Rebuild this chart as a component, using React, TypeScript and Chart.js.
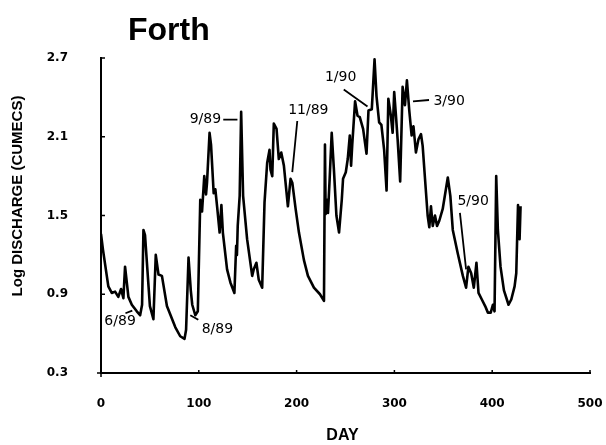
import React, { useEffect, useRef } from "react";
import { Chart, registerables } from "chart.js";

Chart.register(...registerables);

// ---- data ----
const days = [
  0, 2, 7.5, 11, 14.4, 17.7, 20.5, 22.9, 24.6, 26.7, 28, 31.5, 36.6, 40, 42, 43.4, 45, 50, 53.6, 56,
  58.8, 62.3, 67.4, 75.9, 81, 85.4, 87, 89.5, 91.8, 93.3, 96.4, 99, 101.5, 103.3, 105.6, 107.4, 108.4,
  111, 112.5, 115.2, 116.9, 118.7, 121.3, 123.1, 124.6, 128.9, 132.3, 136.4, 138.2, 139, 139.8, 141.8,
  143.3, 145.3, 149.4, 154.6, 156.2, 158.9, 161.3, 164.8, 167.2, 169.9, 172.3, 173.3, 175.1, 176.7,
  179.5, 181.8, 184.3, 187, 191.1, 193.8, 195.6, 199, 202.4, 207.5, 211.6, 217.7, 223.9, 228, 229,
  229.7, 231.5, 232.1, 233.8, 235.9, 238.3, 240.7, 243.4, 246.2, 247.5, 250.3, 252.3, 254.4, 255.7,
  256.9, 259.8, 262.3, 264.6, 268, 271.5, 273.5, 276.9, 279.7, 281.7, 284.4, 286.7, 289.5, 292, 293.8,
  296.4, 298.2, 299.8, 301.5, 303.3, 305.9, 308.4, 310.8, 312.8, 315.2, 317.6, 319.5, 322, 324.6,
  327.2, 328.9, 331.3, 334, 335.7, 337.4, 339.2, 341.5, 343.6, 345.9, 349.4, 354.6, 357.2, 359.7,
  364.8, 370, 373.3, 375.7, 378.5, 381.2, 383.9, 386, 389.4, 392.8, 395.6, 398.5, 400.7, 402.4, 404.1,
  405.8, 408.5, 412, 416.7, 419.5, 422.9, 424.6, 426.4, 428, 429,
];
const logDischarge = [
  1.36, 1.24, 0.96, 0.91, 0.92, 0.88, 0.94, 0.87, 1.11, 0.97, 0.88, 0.82, 0.77, 0.74, 0.82, 1.39, 1.35,
  0.81, 0.71, 1.2, 1.05, 1.04, 0.81, 0.65, 0.58, 0.56, 0.63, 1.18, 0.93, 0.82, 0.74, 0.77, 1.62, 1.53,
  1.8, 1.66, 1.75, 2.13, 2.04, 1.67, 1.7, 1.57, 1.37, 1.58, 1.37, 1.09, 0.99, 0.91, 1.27, 1.2, 1.42,
  1.65, 2.29, 1.65, 1.32, 1.04, 1.09, 1.14, 1.01, 0.95, 1.6, 1.9, 2.0, 1.85, 1.8, 2.2, 2.16, 1.93,
  1.98, 1.88, 1.57, 1.78, 1.75, 1.55, 1.37, 1.16, 1.04, 0.95, 0.9, 0.85, 2.04, 1.51, 1.62, 1.52, 1.78,
  2.13, 1.83, 1.5, 1.37, 1.62, 1.78, 1.83, 1.93, 2.11, 1.88, 2.04, 2.37, 2.26, 2.25, 2.16, 1.97, 2.3,
  2.31, 2.69, 2.41, 2.21, 2.19, 2.0, 1.69, 2.39, 2.26, 2.13, 2.44, 2.27, 2.08, 1.76, 2.48, 2.34, 2.53,
  2.3, 2.11, 2.18, 1.98, 2.08, 2.12, 2.03, 1.78, 1.5, 1.41, 1.57, 1.42, 1.5, 1.42, 1.46, 1.55, 1.79,
  1.65, 1.39, 1.21, 1.04, 0.95, 1.11, 1.06, 0.95, 1.14, 0.91, 0.86, 0.81, 0.76, 0.76, 0.82, 0.77,
  1.8, 1.39, 1.11, 0.93, 0.82, 0.86, 0.96, 1.06, 1.58, 1.32, 1.57,
];

const xTickValues = [0, 100, 200, 300, 400, 500];
const xTickLabels = ["0", "100", "200", "300", "400", "500"];
const yTickValues = [0.3, 0.9, 1.5, 2.1, 2.7];
const yTickLabels = ["0.3", "0.9", "1.5", "2.1", "2.7"];

const annotationTexts = ["6/89", "8/89", "9/89", "11/89", "1/90", "3/90", "5/90"];
const annotationDay = [19.5, 119, 106.7, 212, 245, 356, 380.5];
const annotationValue = [0.69, 0.63, 2.23, 2.3, 2.55, 2.37, 1.61];
const leaderStartDay = [25, 91.3, 125, 200.7, 248.2, 319, 367];
const leaderStartValue = [0.755, 0.74, 2.23, 2.22, 2.46, 2.37, 1.52];
const leaderEndDay = [32, 99.5, 139.5, 195.6, 272.5, 335.4, 373.3];
const leaderEndValue = [0.775, 0.705, 2.23, 1.83, 2.33, 2.38, 1.09];

const chartTitle = "Forth";
const xTitle = "DAY";
const yTitle = "Log DISCHARGE (CUMECS)";

const decorPlugin = {
  id: "decor",
  afterDraw(chart: any) {
    const { ctx, scales, chartArea } = chart;
    const xs = scales.x;
    const ys = scales.y;
    ctx.save();
    ctx.fillStyle = "#000";
    ctx.strokeStyle = "#000";

    // title
    ctx.font = "bold 32px 'Liberation Sans', Arial, sans-serif";
    ctx.textAlign = "left";
    ctx.textBaseline = "alphabetic";
    ctx.fillText(chartTitle, 128, 40);

    // y-axis title
    ctx.save();
    ctx.translate(22, 196);
    ctx.rotate(-Math.PI / 2);
    ctx.font = "bold 15px 'Liberation Sans', Arial, sans-serif";
    ctx.textAlign = "center";
    ctx.textBaseline = "alphabetic";
    ctx.fillText(yTitle, 0, 0);
    ctx.restore();

    // x-axis title
    ctx.font = "bold 16px 'Liberation Sans', Arial, sans-serif";
    ctx.textAlign = "center";
    ctx.textBaseline = "alphabetic";
    ctx.fillText(xTitle, (chartArea.left + chartArea.right) / 2 - 3, 440);

    // inward ticks
    ctx.lineWidth = 1.5;
    ctx.beginPath();
    xTickValues.forEach((v) => {
      if (v === 0) return;
      const px = xs.getPixelForValue(v);
      ctx.moveTo(px, chartArea.bottom);
      ctx.lineTo(px, chartArea.bottom - 3);
    });
    yTickValues.forEach((v) => {
      if (v === 0.3) return;
      const py = ys.getPixelForValue(v);
      ctx.moveTo(chartArea.left, py);
      ctx.lineTo(chartArea.left + 4, py);
    });
    ctx.moveTo(chartArea.left, chartArea.bottom);
    ctx.lineTo(chartArea.left, chartArea.bottom + 4);
    ctx.moveTo(chartArea.left, chartArea.bottom);
    ctx.lineTo(chartArea.left - 4, chartArea.bottom);
    ctx.stroke();

    // annotations
    ctx.font = "14px 'DejaVu Sans', sans-serif";
    ctx.textAlign = "center";
    ctx.textBaseline = "middle";
    annotationTexts.forEach((t, i) => {
      ctx.fillText(t, xs.getPixelForValue(annotationDay[i]), ys.getPixelForValue(annotationValue[i]));
    });
    ctx.lineWidth = 1.8;
    ctx.beginPath();
    annotationTexts.forEach((_, i) => {
      ctx.moveTo(xs.getPixelForValue(leaderStartDay[i]), ys.getPixelForValue(leaderStartValue[i]));
      ctx.lineTo(xs.getPixelForValue(leaderEndDay[i]), ys.getPixelForValue(leaderEndValue[i]));
    });
    ctx.stroke();
    ctx.restore();
  },
};

export default function App() {
  const canvasRef = useRef<HTMLCanvasElement | null>(null);

  useEffect(() => {
    const canvas = canvasRef.current;
    if (!canvas) return;
    const points = days.map((d, i) => ({ x: d, y: logDischarge[i] }));
    const tickFont = { family: "'DejaVu Sans', sans-serif", size: 12, weight: "bold" as const };
    const chart = new Chart(canvas, {
      type: "line",
      data: {
        datasets: [
          {
            data: points,
            borderColor: "#000",
            borderWidth: 2.6,
            pointRadius: 0,
            tension: 0,
            fill: false,
            borderJoinStyle: "round",
          },
        ],
      },
      options: {
        animation: false,
        responsive: true,
        maintainAspectRatio: false,
        devicePixelRatio: 1,
        layout: { padding: { left: 0, right: 16, top: 58, bottom: 0 } },
        plugins: {
          legend: { display: false },
          tooltip: { enabled: false },
          title: { display: false },
        },
        scales: {
          x: {
            type: "linear",
            min: 0,
            max: 500,
            afterBuildTicks: (scale: any) => {
              scale.ticks = xTickValues.map((v) => ({ value: v }));
            },
            afterFit: (scale: any) => {
              scale.height = 72;
              scale.paddingLeft = 0;
              scale.paddingRight = 0;
            },
            ticks: {
              autoSkip: false,
              maxRotation: 0,
              padding: 24,
              color: "#000",
              font: tickFont,
              callback: (_v: any, i: number) => xTickLabels[i],
            },
            grid: { display: false, drawTicks: false, tickLength: 0 },
            border: { display: true, color: "#000", width: 2 },
          },
          y: {
            type: "linear",
            min: 0.3,
            max: 2.7,
            afterBuildTicks: (scale: any) => {
              scale.ticks = yTickValues.map((v) => ({ value: v }));
            },
            afterFit: (scale: any) => {
              scale.width = 101;
              scale.paddingTop = 0;
              scale.paddingBottom = 0;
            },
            ticks: {
              autoSkip: false,
              padding: 33,
              color: "#000",
              font: tickFont,
              callback: (_v: any, i: number) => yTickLabels[i],
            },
            grid: { display: false, drawTicks: false, tickLength: 0 },
            border: { display: true, color: "#000", width: 2 },
          },
        },
      },
      plugins: [decorPlugin],
    });
    return () => chart.destroy();
  }, []);

  return (
    <div style={{ position: "fixed", left: 0, top: 0, width: 606, height: 445, background: "#fff" }}>
      <canvas ref={canvasRef} />
    </div>
  );
}
